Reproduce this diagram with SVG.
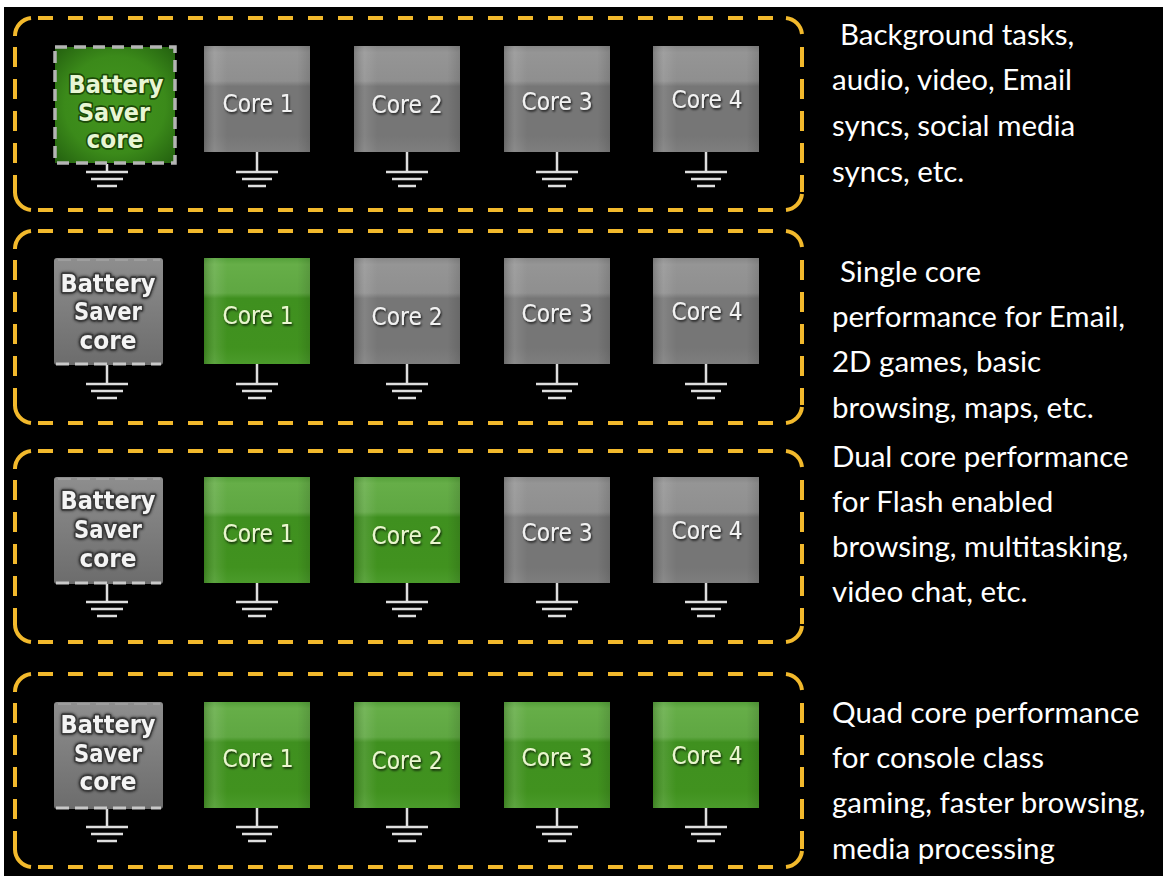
<svg xmlns="http://www.w3.org/2000/svg" width="1163" height="876" viewBox="0 0 1163 876">
<defs>
<style>
.rowc{fill:none;stroke:#f2b92c;stroke-width:4;stroke-linecap:butt}
.hd{stroke-dasharray:15 15}
.vd{stroke-dasharray:20 12}
.gnd{stroke:#dedede;stroke-width:2.5;fill:none}
.desc{font-family:Lato,"Open Sans","Liberation Sans",sans-serif;font-size:29.5px;fill:#ffffff}
.clab{font-family:"DejaVu Sans",Verdana,sans-serif;font-size:24px;text-anchor:middle}
.cg{fill:#f2f2f2}
.cgr{fill:#eaf6cf}
.blab{font-family:"DejaVu Sans",Verdana,sans-serif;font-weight:bold;font-size:25px;text-anchor:middle;paint-order:stroke;stroke-width:3.5;stroke-linejoin:round}
.bg{fill:#f4f4f4;stroke:#3a3a3a}
.bgr{fill:#e8f6d4;stroke:#1c4a08}
</style>
<linearGradient id="gGray" x1="0" y1="0" x2="0" y2="1">
<stop offset="0" stop-color="#878787"/>
<stop offset="0.06" stop-color="#959595"/>
<stop offset="0.33" stop-color="#8f8f8f"/>
<stop offset="0.38" stop-color="#767676"/>
<stop offset="0.85" stop-color="#767676"/>
<stop offset="1" stop-color="#7e7e7e"/>
</linearGradient>
<linearGradient id="gGreen" x1="0" y1="0" x2="0" y2="1">
<stop offset="0" stop-color="#55a03a"/>
<stop offset="0.06" stop-color="#66ae48"/>
<stop offset="0.33" stop-color="#5fa742"/>
<stop offset="0.38" stop-color="#3f901f"/>
<stop offset="0.85" stop-color="#41921f"/>
<stop offset="1" stop-color="#4b9b2b"/>
</linearGradient>
<linearGradient id="gHl" x1="0" y1="0" x2="1" y2="0">
<stop offset="0" stop-color="#000" stop-opacity="0.15"/>
<stop offset="0.1" stop-color="#fff" stop-opacity="0.10"/>
<stop offset="0.22" stop-color="#fff" stop-opacity="0"/>
<stop offset="0.88" stop-color="#000" stop-opacity="0"/>
<stop offset="1" stop-color="#000" stop-opacity="0.12"/>
</linearGradient>
<linearGradient id="gBat" x1="0" y1="0" x2="0" y2="1">
<stop offset="0" stop-color="#8e8e8e"/>
<stop offset="1" stop-color="#6c6c6c"/>
</linearGradient>
<radialGradient id="gBatGreen" cx="0.5" cy="0.5" r="0.7">
<stop offset="0" stop-color="#44961f"/>
<stop offset="0.6" stop-color="#3b8a1a"/>
<stop offset="1" stop-color="#23600f"/>
</radialGradient>
<filter id="sh" x="-20%" y="-40%" width="140%" height="180%">
<feDropShadow dx="1" dy="1.5" stdDeviation="1" flood-color="#000" flood-opacity="0.85"/>
</filter>
<filter id="glow" x="-20%" y="-40%" width="140%" height="180%">
<feDropShadow dx="0" dy="0" stdDeviation="1.5" flood-color="#000" flood-opacity="0.7"/>
</filter>
</defs>

<rect x="0" y="0" width="1163" height="876" fill="#ffffff"/>
<rect x="4" y="7" width="1159" height="869" fill="#000000"/>

<!-- Row frames -->
<g id="row-frames">
<g id="frame1">
<path class="rowc" d="M15,36 A18,18 0 0 1 31,18 M786,18 A18,18 0 0 1 802,34 M802,194 A18,18 0 0 1 786,210 M31,210 A18,18 0 0 1 15,192"/>
<path class="rowc hd" d="M38,18 H780 M38,210 H780"/>
<path class="rowc vd" d="M15,47 V192 M802,47 V192"/>
</g>
<g id="frame2">
<path class="rowc" d="M15,249 A18,18 0 0 1 31,231 M786,231 A18,18 0 0 1 802,247 M802,407 A18,18 0 0 1 786,423 M31,423 A18,18 0 0 1 15,405"/>
<path class="rowc hd" d="M38,231 H780 M38,423 H780"/>
<path class="rowc vd" d="M15,260 V405 M802,260 V405"/>
</g>
<g id="frame3">
<path class="rowc" d="M15,469 A18,18 0 0 1 31,451 M786,451 A18,18 0 0 1 802,467 M802,626 A18,18 0 0 1 786,642 M31,642 A18,18 0 0 1 15,624"/>
<path class="rowc hd" d="M38,451 H780 M38,642 H780"/>
<path class="rowc vd" d="M15,480 V624 M802,480 V624"/>
</g>
<g id="frame4">
<path class="rowc" d="M15,692 A18,18 0 0 1 31,674 M786,674 A18,18 0 0 1 802,690 M802,851 A18,18 0 0 1 786,867 M31,867 A18,18 0 0 1 15,849"/>
<path class="rowc hd" d="M38,674 H780 M38,867 H780"/>
<path class="rowc vd" d="M15,703 V849 M802,703 V849"/>
</g>
</g>

<!-- Ground connectors -->
<g id="connectors">
<path class="gnd" d="M107,164 V172 M86,172 H128 M91,179 H123 M97,186 H117"/>
<path class="gnd" d="M257,152 V172 M236,172 H278 M242,179 H272 M248,186 H266"/>
<path class="gnd" d="M407,152 V172 M386,172 H428 M392,179 H422 M398,186 H416"/>
<path class="gnd" d="M557,152 V172 M536,172 H578 M542,179 H572 M548,186 H566"/>
<path class="gnd" d="M706,152 V172 M685,172 H727 M691,179 H721 M697,186 H715"/>
<path class="gnd" d="M107,365 V384 M86,384 H128 M91,391 H123 M97,398 H117"/>
<path class="gnd" d="M257,364 V384 M236,384 H278 M242,391 H272 M248,398 H266"/>
<path class="gnd" d="M407,364 V384 M386,384 H428 M392,391 H422 M398,398 H416"/>
<path class="gnd" d="M557,364 V384 M536,384 H578 M542,391 H572 M548,398 H566"/>
<path class="gnd" d="M706,364 V384 M685,384 H727 M691,391 H721 M697,398 H715"/>
<path class="gnd" d="M107,584 V602 M86,602 H128 M91,609 H123 M97,616 H117"/>
<path class="gnd" d="M257,583 V602 M236,602 H278 M242,609 H272 M248,616 H266"/>
<path class="gnd" d="M407,583 V602 M386,602 H428 M392,609 H422 M398,616 H416"/>
<path class="gnd" d="M557,583 V602 M536,602 H578 M542,609 H572 M548,616 H566"/>
<path class="gnd" d="M706,583 V602 M685,602 H727 M691,609 H721 M697,616 H715"/>
<path class="gnd" d="M107,809 V827 M86,827 H128 M91,834 H123 M97,841 H117"/>
<path class="gnd" d="M257,808 V827 M236,827 H278 M242,834 H272 M248,841 H266"/>
<path class="gnd" d="M407,808 V827 M386,827 H428 M392,834 H422 M398,841 H416"/>
<path class="gnd" d="M557,808 V827 M536,827 H578 M542,834 H572 M548,841 H566"/>
<path class="gnd" d="M706,808 V827 M685,827 H727 M691,834 H721 M697,841 H715"/>
</g>

<!-- Row 1 nodes -->
<g id="r1-battery">
<rect x="55" y="47" width="120" height="116" fill="url(#gBatGreen)"/>
<rect x="55" y="47" width="120" height="116" fill="none" stroke="#b4b4b4" stroke-width="3.5" stroke-dasharray="12 7"/>
<text class="blab bgr" x="116" y="93" textLength="95" lengthAdjust="spacingAndGlyphs">Battery</text>
<text class="blab bgr" x="114" y="121" textLength="72" lengthAdjust="spacingAndGlyphs">Saver</text>
<text class="blab bgr" x="115" y="148" textLength="57" lengthAdjust="spacingAndGlyphs">core</text>
</g>
<g id="r1-core1"><rect x="204" y="46" width="106" height="106" fill="url(#gGray)"/><rect x="204" y="46" width="106" height="106" fill="url(#gHl)"/><text class="clab cg" x="258" y="112" textLength="71" lengthAdjust="spacingAndGlyphs" filter="url(#sh)">Core 1</text></g>
<g id="r1-core2"><rect x="354" y="46" width="106" height="106" fill="url(#gGray)"/><rect x="354" y="46" width="106" height="106" fill="url(#gHl)"/><text class="clab cg" x="407" y="113" textLength="71" lengthAdjust="spacingAndGlyphs" filter="url(#sh)">Core 2</text></g>
<g id="r1-core3"><rect x="504" y="46" width="106" height="106" fill="url(#gGray)"/><rect x="504" y="46" width="106" height="106" fill="url(#gHl)"/><text class="clab cg" x="557" y="110" textLength="71" lengthAdjust="spacingAndGlyphs" filter="url(#sh)">Core 3</text></g>
<g id="r1-core4"><rect x="653" y="46" width="106" height="106" fill="url(#gGray)"/><rect x="653" y="46" width="106" height="106" fill="url(#gHl)"/><text class="clab cg" x="707" y="108" textLength="71" lengthAdjust="spacingAndGlyphs" filter="url(#sh)">Core 4</text></g>

<!-- Row 2 nodes -->
<g id="r2-battery">
<rect x="54" y="258" width="109" height="107" rx="3" fill="url(#gBat)"/>
<path d="M56,364 H161" stroke="#c8c8c8" stroke-width="3" stroke-dasharray="13 6"/>
<path d="M58,260 H160" stroke="#b0b0b0" stroke-width="1.5" stroke-dasharray="13 6" opacity="0.6"/>
<text class="blab bg" x="108" y="292" textLength="95" lengthAdjust="spacingAndGlyphs" filter="url(#glow)">Battery</text>
<text class="blab bg" x="108" y="320" textLength="68" lengthAdjust="spacingAndGlyphs" filter="url(#glow)">Saver</text>
<text class="blab bg" x="108" y="349" textLength="57" lengthAdjust="spacingAndGlyphs" filter="url(#glow)">core</text>
</g>
<g id="r2-core1"><rect x="204" y="258" width="106" height="106" fill="url(#gGreen)"/><rect x="204" y="258" width="106" height="106" fill="url(#gHl)"/><text class="clab cgr" x="258" y="324" textLength="71" lengthAdjust="spacingAndGlyphs" filter="url(#sh)">Core 1</text></g>
<g id="r2-core2"><rect x="354" y="258" width="106" height="106" fill="url(#gGray)"/><rect x="354" y="258" width="106" height="106" fill="url(#gHl)"/><text class="clab cg" x="407" y="325" textLength="71" lengthAdjust="spacingAndGlyphs" filter="url(#sh)">Core 2</text></g>
<g id="r2-core3"><rect x="504" y="258" width="106" height="106" fill="url(#gGray)"/><rect x="504" y="258" width="106" height="106" fill="url(#gHl)"/><text class="clab cg" x="557" y="322" textLength="71" lengthAdjust="spacingAndGlyphs" filter="url(#sh)">Core 3</text></g>
<g id="r2-core4"><rect x="653" y="258" width="106" height="106" fill="url(#gGray)"/><rect x="653" y="258" width="106" height="106" fill="url(#gHl)"/><text class="clab cg" x="707" y="320" textLength="71" lengthAdjust="spacingAndGlyphs" filter="url(#sh)">Core 4</text></g>

<!-- Row 3 nodes -->
<g id="r3-battery">
<rect x="54" y="477" width="109" height="107" rx="3" fill="url(#gBat)"/>
<path d="M56,583 H161" stroke="#c8c8c8" stroke-width="3" stroke-dasharray="13 6"/>
<path d="M58,479 H160" stroke="#b0b0b0" stroke-width="1.5" stroke-dasharray="13 6" opacity="0.6"/>
<text class="blab bg" x="108" y="509" textLength="95" lengthAdjust="spacingAndGlyphs" filter="url(#glow)">Battery</text>
<text class="blab bg" x="108" y="538" textLength="68" lengthAdjust="spacingAndGlyphs" filter="url(#glow)">Saver</text>
<text class="blab bg" x="108" y="567" textLength="57" lengthAdjust="spacingAndGlyphs" filter="url(#glow)">core</text>
</g>
<g id="r3-core1"><rect x="204" y="477" width="106" height="106" fill="url(#gGreen)"/><rect x="204" y="477" width="106" height="106" fill="url(#gHl)"/><text class="clab cgr" x="258" y="542" textLength="71" lengthAdjust="spacingAndGlyphs" filter="url(#sh)">Core 1</text></g>
<g id="r3-core2"><rect x="354" y="477" width="106" height="106" fill="url(#gGreen)"/><rect x="354" y="477" width="106" height="106" fill="url(#gHl)"/><text class="clab cgr" x="407" y="544" textLength="71" lengthAdjust="spacingAndGlyphs" filter="url(#sh)">Core 2</text></g>
<g id="r3-core3"><rect x="504" y="477" width="106" height="106" fill="url(#gGray)"/><rect x="504" y="477" width="106" height="106" fill="url(#gHl)"/><text class="clab cg" x="557" y="541" textLength="71" lengthAdjust="spacingAndGlyphs" filter="url(#sh)">Core 3</text></g>
<g id="r3-core4"><rect x="653" y="477" width="106" height="106" fill="url(#gGray)"/><rect x="653" y="477" width="106" height="106" fill="url(#gHl)"/><text class="clab cg" x="707" y="539" textLength="71" lengthAdjust="spacingAndGlyphs" filter="url(#sh)">Core 4</text></g>

<!-- Row 4 nodes -->
<g id="r4-battery">
<rect x="54" y="702" width="109" height="107" rx="3" fill="url(#gBat)"/>
<path d="M56,808 H161" stroke="#c8c8c8" stroke-width="3" stroke-dasharray="13 6"/>
<path d="M58,704 H160" stroke="#b0b0b0" stroke-width="1.5" stroke-dasharray="13 6" opacity="0.6"/>
<text class="blab bg" x="108" y="733" textLength="95" lengthAdjust="spacingAndGlyphs" filter="url(#glow)">Battery</text>
<text class="blab bg" x="108" y="762" textLength="68" lengthAdjust="spacingAndGlyphs" filter="url(#glow)">Saver</text>
<text class="blab bg" x="108" y="790" textLength="57" lengthAdjust="spacingAndGlyphs" filter="url(#glow)">core</text>
</g>
<g id="r4-core1"><rect x="204" y="702" width="106" height="106" fill="url(#gGreen)"/><rect x="204" y="702" width="106" height="106" fill="url(#gHl)"/><text class="clab cgr" x="258" y="767" textLength="71" lengthAdjust="spacingAndGlyphs" filter="url(#sh)">Core 1</text></g>
<g id="r4-core2"><rect x="354" y="702" width="106" height="106" fill="url(#gGreen)"/><rect x="354" y="702" width="106" height="106" fill="url(#gHl)"/><text class="clab cgr" x="407" y="769" textLength="71" lengthAdjust="spacingAndGlyphs" filter="url(#sh)">Core 2</text></g>
<g id="r4-core3"><rect x="504" y="702" width="106" height="106" fill="url(#gGreen)"/><rect x="504" y="702" width="106" height="106" fill="url(#gHl)"/><text class="clab cgr" x="557" y="766" textLength="71" lengthAdjust="spacingAndGlyphs" filter="url(#sh)">Core 3</text></g>
<g id="r4-core4"><rect x="653" y="702" width="106" height="106" fill="url(#gGreen)"/><rect x="653" y="702" width="106" height="106" fill="url(#gHl)"/><text class="clab cgr" x="707" y="764" textLength="71" lengthAdjust="spacingAndGlyphs" filter="url(#sh)">Core 4</text></g>

<!-- Descriptions -->
<g id="desc1">
<text class="desc" x="840" y="45">Background tasks,</text>
<text class="desc" x="832" y="90">audio, video, Email</text>
<text class="desc" x="832" y="136">syncs, social media</text>
<text class="desc" x="832" y="182">syncs, etc.</text>
</g>
<g id="desc2">
<text class="desc" x="840" y="282">Single core</text>
<text class="desc" x="832" y="327">performance for Email,</text>
<text class="desc" x="832" y="372">2D games, basic</text>
<text class="desc" x="832" y="418">browsing, maps, etc.</text>
</g>
<g id="desc3">
<text class="desc" x="832" y="467">Dual core performance</text>
<text class="desc" x="832" y="512">for Flash enabled</text>
<text class="desc" x="832" y="557">browsing, multitasking,</text>
<text class="desc" x="832" y="602">video chat, etc.</text>
</g>
<g id="desc4">
<text class="desc" x="832" y="723">Quad core performance</text>
<text class="desc" x="832" y="768">for console class</text>
<text class="desc" x="832" y="813">gaming, faster browsing,</text>
<text class="desc" x="832" y="859">media processing</text>
</g>
</svg>
